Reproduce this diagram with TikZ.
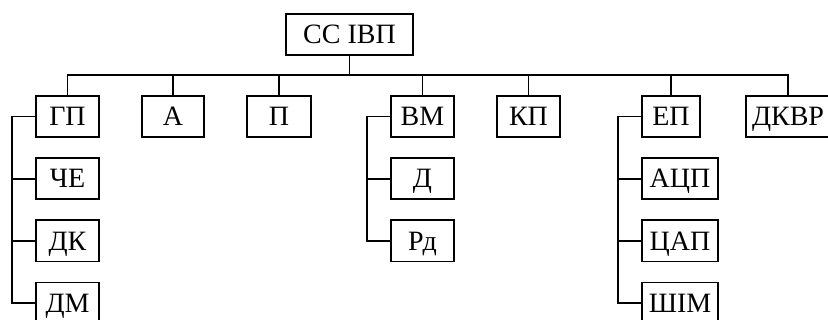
\documentclass[tikz,border=0pt]{standalone}
\usepackage{fontspec}
\setmainfont{Liberation Serif}
\usetikzlibrary{positioning}

\begin{document}
\begin{tikzpicture}[
		node distance=10.5pt and 21.5pt,
		line width=0.9pt,
		block/.style={draw, minimum width=31.5pt, minimum height=20.6pt, inner sep=0pt, outer sep=0pt, text height=9.3pt, text depth=0pt, font=\fontsize{14}{16}\selectfont},
		wide/.style={minimum width=38pt},
	]
		\useasboundingbox (0,0) rectangle (414pt,-160pt);
		\node[block, minimum width=63.5pt] (sys) at (174.75pt,-17.25pt) {СС ІВП};
		\node[block] (gp) at (33.75pt,-58.25pt) {ГП};
		\node[block, right=of gp, minimum width=31pt] (a) {А};
		\node[block, right=of a, minimum width=32pt] (p) {П};
		\node[block, right=40pt of p] (vm) {ВМ};
		\node[block, right=of vm] (kp) {КП};
		\node[block, right=41pt of kp, minimum width=29pt] (ep) {ЕП};
		\node[block, right=23pt of ep, minimum width=42pt] (dkvr) {ДКВР};

		\node[block, below=of gp] (che) {ЧЕ};
		\node[block, below=of che] (dk) {ДК};
		\node[block, below=of dk] (dm) {ДМ};
		\node[block, below=of vm] (d) {Д};
		\node[block, below=of d] (rd) {Рд};
		\node[block, wide, below=of ep.south west, anchor=north west] (adc) {АЦП};
		\node[block, wide, below=of adc] (dac) {ЦАП};
		\node[block, wide, below=of dac] (pwm) {ШІМ};

		\coordinate[below=10pt of sys] (bus);
		\coordinate[left=12pt of gp] (gpl);
		\coordinate[left=12pt of vm] (vml);
		\coordinate[left=12pt of ep] (epl);

		\draw (sys) -- (bus);
		\draw (gp) |- (bus) -| (dkvr);
		\foreach \n in {a,p,vm,kp,ep}
			\draw (\n) -- (\n|-bus);

		\draw (gp) -- (gpl) |- (dm);
		\draw (che) -- (che-|gpl);
		\draw (dk) -- (dk-|gpl);
		\draw (vm) -- (vml) |- (rd);
		\draw (d) -- (d-|vml);
		\draw (ep) -- (epl) |- (pwm);
		\draw (adc) -- (adc-|epl);
		\draw (dac) -- (dac-|epl);
	\end{tikzpicture}
\end{document}
